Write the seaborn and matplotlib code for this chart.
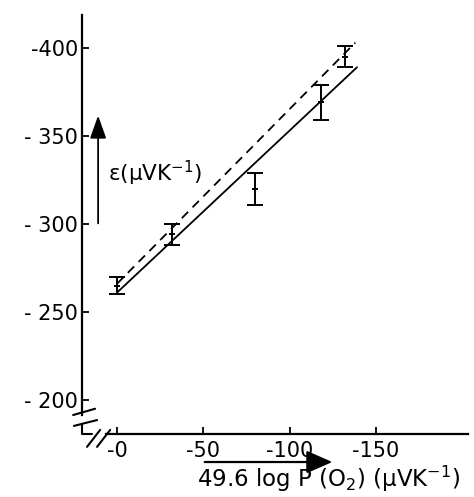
import numpy as np
import pandas as pd
import seaborn as sns
import matplotlib.pyplot as plt

# measured points: x = 49.6 log P(O2), y = thermopower
x_pts = [0, -32, -80, -118, -132]
y_pts = [-265, -294, -320, -369, -395]
y_err = [5, 6, 9, 10, 6]

# fitted lines (end points)
solid_x = [0, -139]
solid_y = [-261, -389]
dash_x = [0, -138]
dash_y = [-266, -403]

x_ticks = [0, -50, -100, -150]
x_ticklabels = ["-0", "-50", "-100", "-150"]
y_ticks = [-200, -250, -300, -350, -400]
y_ticklabels = ["- 200", "- 250", "- 300", "- 350", "-400"]

sns.set_style("ticks")
plt.rcParams['font.family'] = ['DejaVu Sans']
plt.rcParams['text.color'] = 'black'

fig = plt.figure(figsize=(4.74, 4.97), dpi=100)
ax = fig.add_axes([0.173, 0.127, 0.814, 0.843])

lines = pd.DataFrame({
    "x": solid_x + dash_x,
    "y": solid_y + dash_y,
    "fit": ["solid"] * 2 + ["dashed"] * 2,
})
sns.lineplot(data=lines[lines.fit == "solid"], x="x", y="y", color="black",
             lw=1.3, ax=ax, sort=False)
sns.lineplot(data=lines[lines.fit == "dashed"], x="x", y="y", color="black",
             lw=1.3, ax=ax, sort=False, dashes=False, linestyle=(0, (5, 3.5)))

ax.errorbar(x_pts, y_pts, yerr=y_err, fmt='_', ms=5, color='black',
            ecolor='black', elinewidth=1.4, capsize=6, capthick=1.9, mew=1.4)

ax.set_xlim(20.3, -203.2)
ax.set_ylim(-180.7, -418.75)
ax.set_xticks(x_ticks)
ax.set_xticklabels(x_ticklabels)
ax.set_yticks(y_ticks)
ax.set_yticklabels(y_ticklabels)
ax.tick_params(direction='in', length=5, width=1.3, labelsize=15, colors='black')
ax.tick_params(axis='x', pad=5)
ax.tick_params(axis='y', pad=3)
ax.set_xlabel("")
ax.set_ylabel("")

sns.despine(ax=ax)
for s in ["left", "bottom"]:
    ax.spines[s].set_linewidth(1.6)
    ax.spines[s].set_color("black")
ax.spines["left"].set_bounds(-191.5, -418.75)
ax.spines["bottom"].set_bounds(6.4, -203.2)

# axis break
kw = dict(transform=ax.transAxes, color='black', lw=1.5, clip_on=False)
ax.plot([0, 0, 0.026], [0.0215, 0, 0], **kw)
ax.plot([-0.023, 0.034], [0.045, 0.060], **kw)
ax.plot([-0.021, 0.039], [0.019, 0.033], **kw)
ax.plot([0.013, 0.047], [-0.031, 0.0095], **kw)
ax.plot([0.039, 0.073], [-0.031, 0.0095], **kw)

# axis labels with arrows
fig.text(0.228, 0.652, "ε(μVK$^{-1}$)", fontsize=15.5, ha='left', va='center')
ax.annotate("", xy=(0.207, 0.773), xytext=(0.207, 0.545), xycoords='figure fraction',
            arrowprops=dict(arrowstyle='-|>,head_length=0.7,head_width=0.25',
                            mutation_scale=20, lw=1.3, color='black'))
fig.text(0.416, 0.036, "49.6 log P (O$_2$) (μVK$^{-1}$)", fontsize=16.5, ha='left', va='center')
ax.annotate("", xy=(0.707, 0.0704), xytext=(0.426, 0.0704), xycoords='figure fraction',
            arrowprops=dict(arrowstyle='-|>,head_length=0.8,head_width=0.35',
                            mutation_scale=20, lw=1.6, color='black'))

fig.savefig("out.png", dpi=100)
